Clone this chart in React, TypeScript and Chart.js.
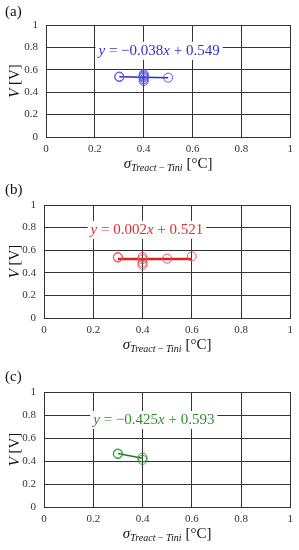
import React, { useEffect, useRef } from "react";
import { Chart, registerables } from "chart.js";

Chart.register(...registerables);

// ---- data ----
const tickValues = [0, 0.2, 0.4, 0.6, 0.8, 1];
const tickLabels = ["0", "0.2", "0.4", "0.6", "0.8", "1"];

const pointsAX = [0.3, 0.3, 0.4, 0.4, 0.4, 0.4, 0.4, 0.4, 0.5];
const pointsAY = [0.54, 0.535, 0.56, 0.55, 0.54, 0.53, 0.515, 0.5, 0.53];
const fitAX = [0.3, 0.5];
const fitAY = [0.538, 0.53];

const pointsBX = [0.3, 0.3, 0.4, 0.4, 0.4, 0.4, 0.5, 0.6];
const pointsBY = [0.54, 0.535, 0.54, 0.52, 0.49, 0.47, 0.525, 0.545];
const fitBX = [0.3, 0.6];
const fitBY = [0.5216, 0.5222];

const pointsCX = [0.3, 0.3, 0.4, 0.4];
const pointsCY = [0.465, 0.46, 0.43, 0.41];
const fitCX = [0.3, 0.4];
const fitCY = [0.4655, 0.423];

const eqA = { label: "(a)", slope: "\u22120.038", icpt: "0.549", ex: 0.463, ey: 0.77 };
const eqB = { label: "(b)", slope: "0.002", icpt: "0.521", ex: 0.418, ey: 0.78 };
const eqC = { label: "(c)", slope: "\u22120.425", icpt: "0.593", ex: 0.446, ey: 0.757 };

const SERIF = "'Liberation Serif', 'DejaVu Serif', serif";

type PanelProps = {
  top: number;
  height: number;
  left: number;
  right: number;
  ptop: number;
  pbottom: number;
  labelY: number;
  px: number[];
  py: number[];
  fx: number[];
  fy: number[];
  eq: { label: string; slope: string; icpt: string; ex: number; ey: number };
  color: string;
  markerColor: string;
  textColor: string;
  lineWidth: number;
};

function Panel(p: PanelProps) {
  const ref = useRef<HTMLCanvasElement | null>(null);
  useEffect(() => {
    if (!ref.current) return;
    const textPlugin = {
      id: "texts",
      afterDraw(chart: any) {
        const ctx = chart.ctx;
        const ca = chart.chartArea;
        ctx.save();
        ctx.fillStyle = "#111";
        ctx.textBaseline = "middle";
        // panel label
        ctx.font = `15px ${SERIF}`;
        ctx.textAlign = "left";
        ctx.fillText(p.eq.label, 5, p.labelY);

        // y title
        ctx.save();
        ctx.translate(15, (ca.top + ca.bottom) / 2);
        ctx.rotate(-Math.PI / 2);
        ctx.font = `italic 15px ${SERIF}`;
        const w1 = ctx.measureText("V").width;
        ctx.font = `15px ${SERIF}`;
        const w2 = ctx.measureText(" [V]").width;
        let sx = -(w1 + w2) / 2;
        ctx.font = `italic 15px ${SERIF}`;
        ctx.fillText("V", sx, 0);
        ctx.font = `15px ${SERIF}`;
        ctx.fillText(" [V]", sx + w1, 0);
        ctx.restore();

        // x title
        const ty = ca.bottom + 27;
        const segs: [string, string, number][] = [
          ["\u03c3", `italic 15px ${SERIF}`, 0],
          ["Treact", `italic 10px ${SERIF}`, 4],
          [" \u2212 ", `10px ${SERIF}`, 4],
          ["Tini", `italic 10px ${SERIF}`, 4],
          [" [\u00b0C]", `15px ${SERIF}`, 0],
        ];
        let total = 0;
        for (const s of segs) {
          ctx.font = s[1];
          total += ctx.measureText(s[0]).width;
        }
        let cx = (ca.left + ca.right) / 2 - total / 2;
        for (const s of segs) {
          ctx.font = s[1];
          ctx.fillText(s[0], cx, ty + s[2]);
          cx += ctx.measureText(s[0]).width;
        }

        // equation
        const ex = chart.scales.x.getPixelForValue(p.eq.ex);
        const ey = chart.scales.y.getPixelForValue(p.eq.ey);
        const esegs: [string, string][] = [
          ["y", `italic 15px ${SERIF}`],
          [" = " + p.eq.slope, `15px ${SERIF}`],
          ["x", `italic 15px ${SERIF}`],
          [" + " + p.eq.icpt, `15px ${SERIF}`],
        ];
        let et = 0;
        for (const s of esegs) {
          ctx.font = s[1];
          et += ctx.measureText(s[0]).width;
        }
        ctx.fillStyle = "#fff";
        ctx.fillRect(ex - et / 2 - 3, ey - 9, et + 6, 18);
        ctx.fillStyle = p.textColor;
        let ecx = ex - et / 2;
        for (const s of esegs) {
          ctx.font = s[1];
          ctx.fillText(s[0], ecx, ey);
          ecx += ctx.measureText(s[0]).width;
        }
        ctx.restore();
      },
    };

    const fmt = (v: any) => {
      const i = tickValues.findIndex((t) => Math.abs(t - Number(v)) < 1e-9);
      return i >= 0 ? tickLabels[i] : "";
    };

    const chart = new Chart(ref.current, {
      type: "scatter",
      data: {
        datasets: [
          {
            data: p.fx.map((x, i) => ({ x, y: p.fy[i] })),
            showLine: true,
            borderColor: p.color,
            borderWidth: p.lineWidth,
            pointRadius: 0,
            order: 2,
          },
          {
            data: p.px.map((x, i) => ({ x, y: p.py[i] })),
            showLine: false,
            pointStyle: "circle",
            pointRadius: 4.5,
            borderColor: p.markerColor,
            backgroundColor: "rgba(0,0,0,0)",
            borderWidth: 1,
            order: 1,
          },
        ],
      },
      options: {
        responsive: false,
        animation: false,
        layout: { padding: { left: 0, right: 299 - p.right, top: p.ptop, bottom: 0 } },
        plugins: { legend: { display: false }, tooltip: { enabled: false } },
        scales: {
          x: {
            type: "linear",
            min: 0,
            max: 1,
            afterBuildTicks: (s: any) => {
              s.ticks = tickValues.map((v) => ({ value: v }));
            },
            afterFit: (s: any) => {
              s.height = p.height - p.pbottom;
            },
            grid: { color: "#333", lineWidth: 1, drawTicks: false },
            border: { display: true, color: "#333" },
            ticks: {
              padding: 6,
              color: "#333",
              font: { family: SERIF, size: 11 },
              maxRotation: 0,
              callback: fmt,
            },
          },
          y: {
            type: "linear",
            min: 0,
            max: 1,
            afterBuildTicks: (s: any) => {
              s.ticks = tickValues.map((v) => ({ value: v }));
            },
            afterFit: (s: any) => {
              s.width = p.left;
            },
            grid: { color: "#333", lineWidth: 1, drawTicks: false },
            border: { display: true, color: "#333" },
            ticks: {
              padding: 8,
              color: "#333",
              font: { family: SERIF, size: 11 },
              callback: fmt,
            },
          },
        },
      },
      plugins: [textPlugin],
    } as any);
    return () => chart.destroy();
  }, []);
  return (
    <canvas
      ref={ref}
      width={299}
      height={p.height}
      style={{ position: "absolute", left: 0, top: p.top, display: "block" }}
    />
  );
}

export default function App() {
  return (
    <div style={{ position: "absolute", left: 0, top: 0, width: 299, height: 550, background: "#fff" }}>
      <Panel top={0} height={180} left={46} right={292} ptop={25} pbottom={137} labelY={12}
        px={pointsAX} py={pointsAY} fx={fitAX} fy={fitAY} eq={eqA}
        color="#2a2ad0" markerColor="#5656dd" textColor="#3232c8" lineWidth={1.5} />
      <Panel top={180} height={180} left={44} right={293} ptop={25} pbottom={138} labelY={10}
        px={pointsBX} py={pointsBY} fx={fitBX} fy={fitBY} eq={eqB}
        color="#e02020" markerColor="#e85050" textColor="#e03030" lineWidth={2.5} />
      <Panel top={360} height={190} left={44} right={293} ptop={32} pbottom={147} labelY={17}
        px={pointsCX} py={pointsCY} fx={fitCX} fy={fitCY} eq={eqC}
        color="#1f7f1f" markerColor="#2f992f" textColor="#2f8f2f" lineWidth={1.5} />
    </div>
  );
}
